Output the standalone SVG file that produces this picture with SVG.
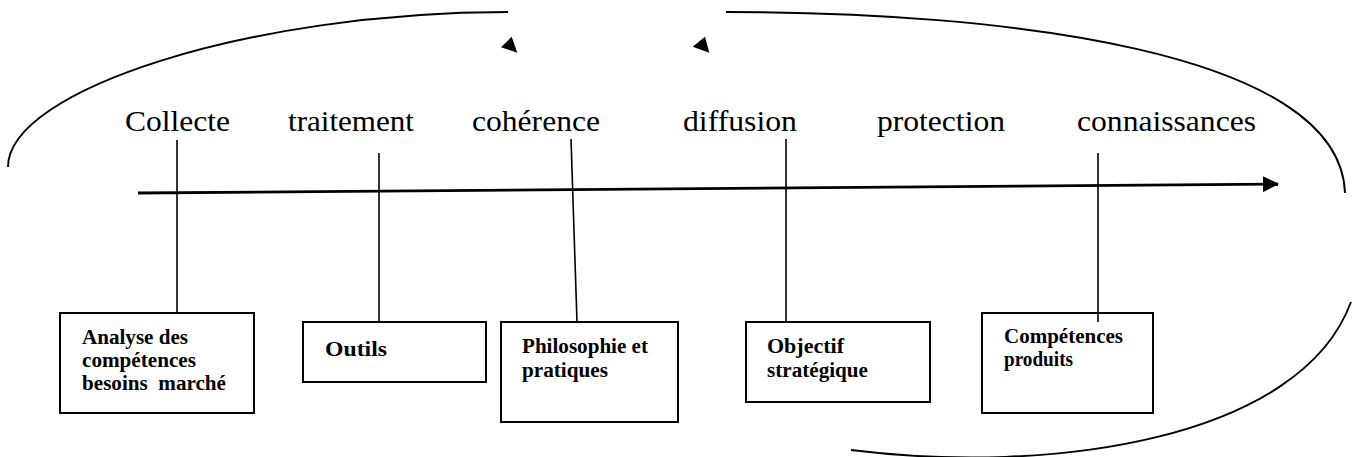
<svg xmlns="http://www.w3.org/2000/svg" width="1359" height="457" viewBox="0 0 1359 457">
  <style>
    .stage { font-family: "Liberation Serif", "Times New Roman", serif; font-size: 30px; fill: #000; }
    .box { fill: #fff; stroke: #000; stroke-width: 2; }
    .lbl { font-family: "Liberation Serif", "Times New Roman", serif; font-size: 20px; font-weight: bold; fill: #000; white-space: pre; }
    .tick { stroke: #000; stroke-width: 1.6; fill: none; }
    .loop { stroke: #000; stroke-width: 1.9; fill: none; }
    .head { fill: #000; }
  </style>
  <defs>
    <marker id="arrow" viewBox="0 0 16 16" refX="15" refY="8" markerWidth="16" markerHeight="16" markerUnits="userSpaceOnUse" orient="auto">
      <path d="M0,0 L16,8 L0,16 Z" fill="#000"/>
    </marker>
  </defs>
  <rect width="1359" height="457" fill="#fff"/>

  <!-- connectors: timeline, ticks to boxes, surrounding loop -->
  <g id="connectors">
    <line x1="138" y1="193" x2="1278" y2="184" stroke="#000" stroke-width="2.8" marker-end="url(#arrow)"/>
    <line class="tick" x1="177" y1="140" x2="177" y2="313"/>
    <line class="tick" x1="379" y1="153" x2="379" y2="322"/>
    <line class="tick" x1="571" y1="139" x2="577" y2="322"/>
    <line class="tick" x1="786" y1="139" x2="786" y2="322"/>
    <line class="tick" x1="1098" y1="153" x2="1098" y2="322"/>
    <path class="loop" d="M8,167 C8,90 250,12 508,12"/>
    <path class="loop" d="M726,12 C1000,12 1340,50 1345,193"/>
    <path class="loop" d="M1351,302 C1300,440 1050,475 851,450"/>
    <polygon class="head" points="511.7,36.7 501,47.3 517.3,52.7"/>
    <polygon class="head" points="705,36.7 692.7,46.7 709.3,52.7"/>
  </g>

  <!-- stage labels above the timeline -->
  <g id="stage-collecte"><text class="stage" x="125" y="131" textLength="105" lengthAdjust="spacingAndGlyphs">Collecte</text></g>
  <g id="stage-traitement"><text class="stage" x="288" y="131" textLength="126" lengthAdjust="spacingAndGlyphs">traitement</text></g>
  <g id="stage-coherence"><text class="stage" x="472" y="131" textLength="128" lengthAdjust="spacingAndGlyphs">cohérence</text></g>
  <g id="stage-diffusion"><text class="stage" x="683" y="131" textLength="114" lengthAdjust="spacingAndGlyphs">diffusion</text></g>
  <g id="stage-protection"><text class="stage" x="877" y="131" textLength="128" lengthAdjust="spacingAndGlyphs">protection</text></g>
  <g id="stage-connaissances"><text class="stage" x="1077" y="131" textLength="179" lengthAdjust="spacingAndGlyphs">connaissances</text></g>

  <!-- boxes below the timeline -->
  <g id="box-analyse">
    <rect class="box" x="60" y="313" width="194" height="100"/>
    <text class="lbl" x="82" y="344" textLength="106" lengthAdjust="spacingAndGlyphs">Analyse des</text>
    <text class="lbl" x="82" y="367" textLength="114" lengthAdjust="spacingAndGlyphs">compétences</text>
    <text class="lbl" x="82" y="390" textLength="144" lengthAdjust="spacingAndGlyphs">besoins  marché</text>
  </g>
  <g id="box-outils">
    <rect class="box" x="303" y="322" width="183" height="60"/>
    <text class="lbl" x="325" y="356" font-size="22" textLength="62" lengthAdjust="spacingAndGlyphs">Outils</text>
  </g>
  <g id="box-philosophie">
    <rect class="box" x="501" y="322" width="177" height="100"/>
    <text class="lbl" x="522" y="353" textLength="126" lengthAdjust="spacingAndGlyphs">Philosophie et</text>
    <text class="lbl" x="522" y="377" textLength="86" lengthAdjust="spacingAndGlyphs">pratiques</text>
  </g>
  <g id="box-objectif">
    <rect class="box" x="746" y="322" width="184" height="80"/>
    <text class="lbl" x="767" y="353" textLength="77" lengthAdjust="spacingAndGlyphs">Objectif</text>
    <text class="lbl" x="767" y="377" textLength="101" lengthAdjust="spacingAndGlyphs">stratégique</text>
  </g>
  <g id="box-competences">
    <rect class="box" x="982" y="313" width="171" height="100"/>
    <line class="tick" x1="1098" y1="313" x2="1098" y2="322"/>
    <text class="lbl" x="1004" y="343" textLength="119" lengthAdjust="spacingAndGlyphs">Compétences</text>
    <text class="lbl" x="1004" y="366" textLength="69" lengthAdjust="spacingAndGlyphs">produits</text>
  </g>
</svg>
